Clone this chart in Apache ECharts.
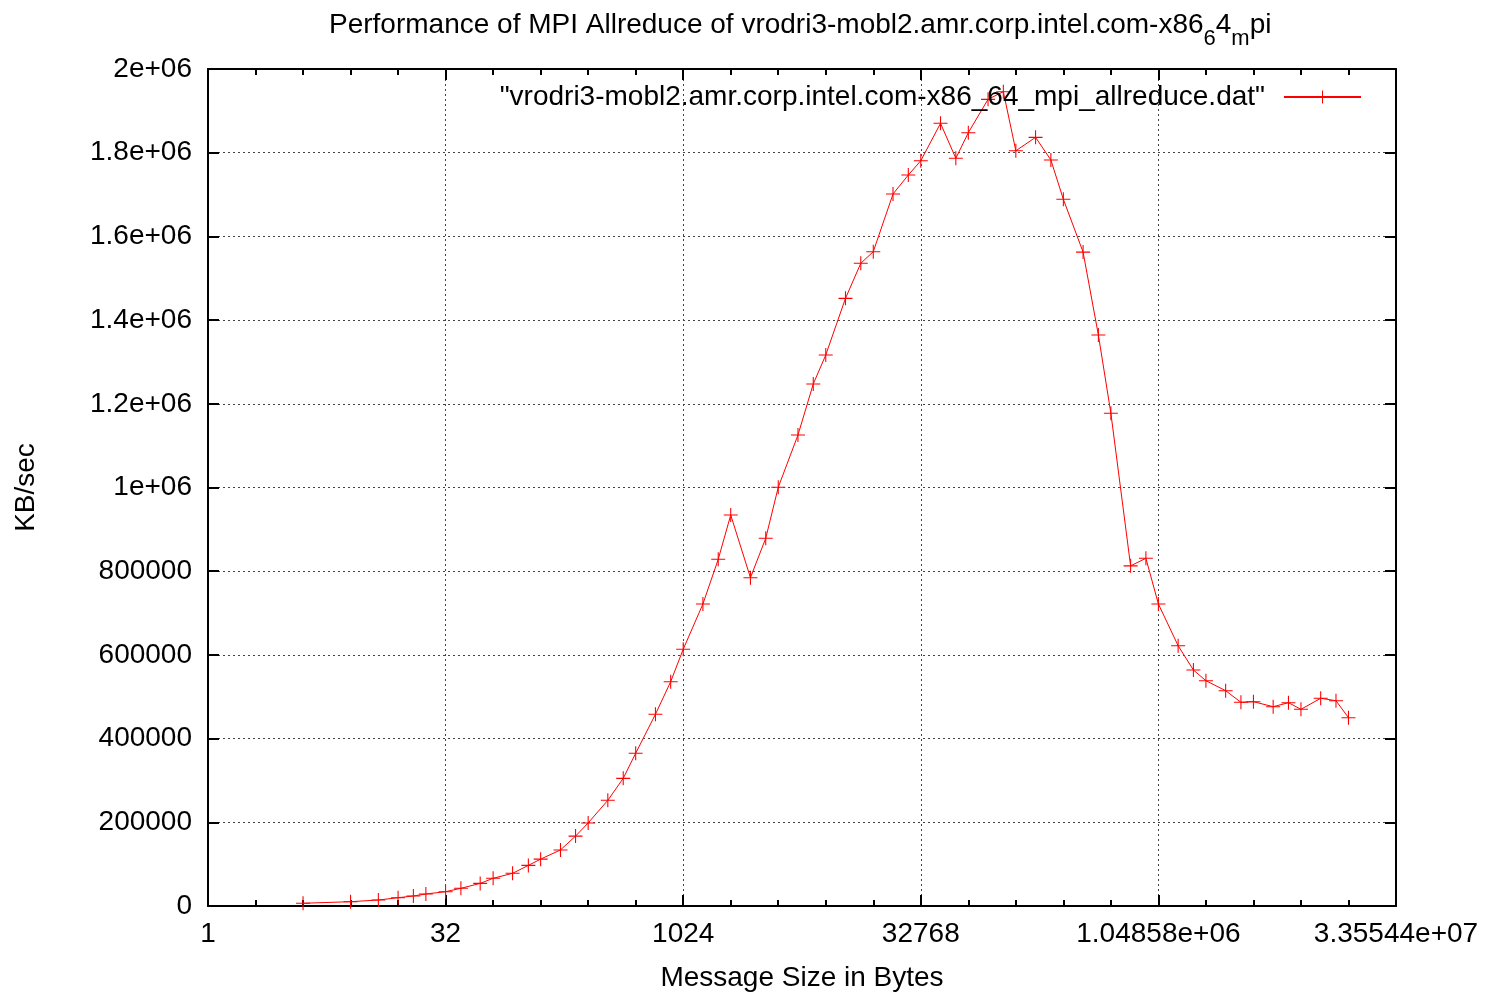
<!DOCTYPE html>
<html>
<head>
<meta charset="utf-8">
<script src="https://cdn.jsdelivr.net/npm/echarts@6/dist/echarts.min.js"></script>
<style>
  html, body { margin: 0; padding: 0; background: #fff; }
  #chart { width: 1488px; height: 997px; }
</style>
</head>
<body>
<div id="chart"></div>
<script>
// Message sizes in bytes (x, log2 scale)
const sizes = [
  4, 8, 12,
  16, 20, 24,
  32, 40, 53,
  64, 85, 107,
  128, 171, 213,
  256, 341, 427,
  512, 683, 853,
  1024, 1365, 1707,
  2048, 2731, 3413,
  4096, 5461, 6827,
  8192, 10923, 13653,
  16384, 21845, 27307,
  32768, 43691, 54613,
  65536, 87381, 109227,
  131072, 174763, 218453,
  262144, 349525, 436907,
  524288, 699051, 873813,
  1048576, 1398101, 1747627,
  2097152, 2796203, 3495253,
  4194304, 5592405, 6990507,
  8388608, 11184811, 13981013,
  16777216
];
// Throughput in KB/sec
const kbPerSec = [
  6500, 10300, 14300,
  19800, 23900, 28700,
  34200, 42300, 54000,
  66200, 78100, 97000,
  112000, 134000, 167000,
  198500, 252500, 305000,
  365000, 458000, 536000,
  613400, 721600, 828400,
  934300, 784500, 878600,
  1000400, 1125400, 1247300,
  1316600, 1452000, 1535700,
  1563500, 1701300, 1746700,
  1780900, 1870200, 1786600,
  1847800, 1927500, 1945800,
  1804500, 1836700, 1782600,
  1688600, 1562500, 1364400,
  1177300, 812800, 830800,
  721600, 622000, 563900,
  538400, 514500, 486700,
  488200, 476200, 485800,
  470000, 496300, 490600,
  450000
];
const xTickLabels = ['1', '32', '1024', '32768', '1.04858e+06', '3.35544e+07'];
const yTickLabels = ['0', '200000', '400000', '600000', '800000', '1e+06',
  '1.2e+06', '1.4e+06', '1.6e+06', '1.8e+06', '2e+06'];
const seriesName = '"vrodri3-mobl2.amr.corp.intel.com-x86_64_mpi_allreduce.dat"';

const FONT = 'Liberation Sans';
const FS = 28;
const gridLine = { show: true, lineStyle: { color: '#444', width: 1, type: [2, 3] } };
const borderLine = { show: true, onZero: false, lineStyle: { color: '#000', width: 2 } };
const majorTick = { show: true, inside: true, length: 11, lineStyle: { color: '#000', width: 2 } };
const minorTick = { show: true, splitNumber: 5, length: 6, lineStyle: { color: '#000', width: 2 } };

const chart = echarts.init(document.getElementById('chart'), null, { renderer: 'canvas' });
chart.setOption({
  animation: false,
  backgroundColor: '#fff',
  textStyle: { fontFamily: FONT },
  title: {
    left: 329,
    top: 0,
    padding: [11, 0, 0, 0],
    text: '{a|Performance of MPI Allreduce of vrodri3-mobl2.amr.corp.intel.com-x86}{s|6}{a|4}{s|m}{a|pi}',
    textStyle: {
      fontWeight: 'normal',
      rich: {
        a: { fontFamily: FONT, fontSize: FS, fontWeight: 'normal', color: '#000', lineHeight: 32, verticalAlign: 'top' },
        s: { fontFamily: FONT, fontSize: 22, fontWeight: 'normal', color: '#000', lineHeight: 22, padding: [17, 0, 0, 0], verticalAlign: 'top' }
      }
    }
  },
  legend: {
    top: 83,
    right: 126,
    padding: 0,
    align: 'right',
    itemWidth: 77,
    itemHeight: 16,
    selectedMode: false,
    textStyle: { fontFamily: FONT, fontSize: FS, color: '#000', padding: [0, 14, 0, 0] },
    data: [seriesName]
  },
  grid: { left: 208, right: 92, top: 69, bottom: 91, containLabel: false },
  xAxis: [{
    type: 'value',
    position: 'bottom',
    min: 0, max: 25, interval: 5,
    axisLine: borderLine,
    axisTick: majorTick,
    minorTick: minorTick,
    splitLine: gridLine,
    axisLabel: {
      show: true, margin: 14, color: '#000', fontFamily: FONT, fontSize: FS,
      showMinLabel: true, showMaxLabel: true, hideOverlap: false,
      formatter: v => xTickLabels[Math.round(v / 5)]
    },
    name: 'Message Size in Bytes',
    nameLocation: 'middle',
    nameGap: 58,
    nameTextStyle: { color: '#000', fontFamily: FONT, fontSize: FS }
  }, {
    type: 'value',
    position: 'top',
    min: 0, max: 25, interval: 5,
    axisLine: borderLine,
    axisTick: majorTick,
    minorTick: minorTick,
    splitLine: { show: false },
    axisLabel: { show: false }
  }],
  yAxis: [{
    type: 'value',
    position: 'left',
    min: 0, max: 2000000, interval: 200000,
    axisLine: borderLine,
    axisTick: majorTick,
    splitLine: gridLine,
    axisLabel: {
      show: true, margin: 16, color: '#000', fontFamily: FONT, fontSize: FS,
      showMinLabel: true, showMaxLabel: true,
      formatter: v => yTickLabels[Math.round(v / 200000)]
    },
    name: 'KB/sec',
    nameLocation: 'middle',
    nameGap: 168,
    nameTextStyle: { color: '#000', fontFamily: FONT, fontSize: FS }
  }, {
    type: 'value',
    position: 'right',
    min: 0, max: 2000000, interval: 200000,
    axisLine: borderLine,
    axisTick: majorTick,
    splitLine: { show: false },
    axisLabel: { show: false }
  }],
  series: [{
    name: seriesName,
    type: 'line',
    xAxisIndex: 0,
    yAxisIndex: 0,
    data: sizes.map((s, i) => [Math.log2(s), kbPerSec[i]]),
    symbol: 'path://M6,0H7V6H13V7H7V13H6V7H0V6H6Z',
    symbolSize: 14,
    showSymbol: true,
    silent: true,
    clip: false,
    lineStyle: { color: '#ff0000', width: 1 },
    itemStyle: { color: '#ff0000' },
    emphasis: { disabled: true }
  }]
});
</script>
</body>
</html>
